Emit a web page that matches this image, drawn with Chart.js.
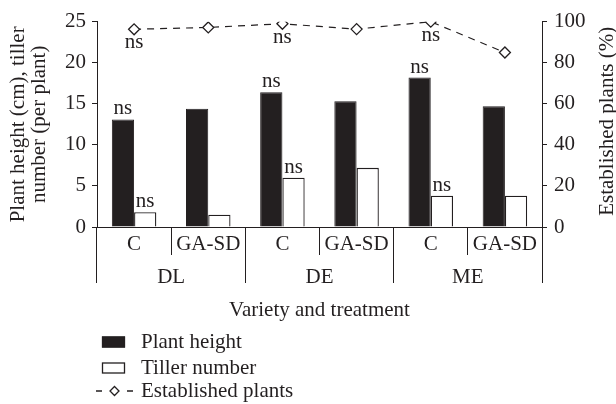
<!DOCTYPE html>
<html>
<head>
<meta charset="utf-8">
<script src="https://cdn.jsdelivr.net/npm/chart.js@4.4.1/dist/chart.umd.min.js"></script>
<style>
  html, body { margin: 0; padding: 0; background: #ffffff; }
  canvas { display: block; }
</style>
</head>
<body>
<canvas id="chart" width="616" height="404"></canvas>
<script>
// Treatments per variety, in drawing order
const treatments = ['C', 'GA-SD', 'C', 'GA-SD', 'C', 'GA-SD'];
const varieties = ['DL', 'DE', 'ME'];

// Series values
const plantHeight = [13.1, 14.4, 16.4, 15.3, 18.2, 14.7];      // cm
const tillerNumber = [1.8, 1.5, 6.0, 7.2, 3.8, 3.8];           // per plant
const establishedPlants = [96.3, 97.2, 99.0, 96.4, 100, 85];   // %

// Significance marks written next to each mark
const heightSig = ['ns', '', 'ns', '', 'ns', ''];
const tillerSig = ['ns', '', 'ns', '', 'ns', ''];
const establishedSig = ['ns', '', 'ns', '', 'ns', ''];

// Axis ticks and titles
const leftTicks = [0, 5, 10, 15, 20, 25];
const rightTicks = [0, 20, 40, 60, 80, 100];
const leftTitle = ['Plant height (cm), tiller', 'number (per plant)'];
const rightTitle = 'Established plants (%)';
const bottomTitle = 'Variety and treatment';

const FONT = "'Liberation Serif', 'Times New Roman', serif";
const INK = '#231f20';
const txt = { family: FONT, size: 21 };

// "ns" labels above bars and below the line markers
const sigLabels = {
  id: 'sigLabels',
  afterDatasetsDraw(chart) {
    const ctx = chart.ctx;
    ctx.save();
    ctx.font = `21px ${FONT}`;
    ctx.fillStyle = INK;
    ctx.textAlign = 'center';
    ctx.textBaseline = 'alphabetic';
    chart.data.datasets.forEach((ds, di) => {
      const meta = chart.getDatasetMeta(di);
      meta.data.forEach((el, i) => {
        const t = ds.sig && ds.sig[i];
        if (!t) return;
        if (ds.type === 'line') ctx.fillText(t, el.x, el.y + 19);
        else ctx.fillText(t, el.x, el.y - 5);
      });
    });
    ctx.restore();
  }
};

// Right axis title, reading bottom to top like the left one
const rightAxisTitle = {
  id: 'rightAxisTitle',
  afterDraw(chart) {
    const s = chart.scales.y1;
    const ctx = chart.ctx;
    ctx.save();
    ctx.translate(s.right - 8.5, (s.top + s.bottom) / 2 - 3);
    ctx.rotate(-Math.PI / 2);
    ctx.font = `21px ${FONT}`;
    ctx.fillStyle = INK;
    ctx.textAlign = 'center';
    ctx.textBaseline = 'middle';
    ctx.fillText(rightTitle, 0, 0);
    ctx.restore();
  }
};

// Vertical legend below the axis title
const stackedLegend = {
  id: 'stackedLegend',
  afterDraw(chart) {
    const ctx = chart.ctx;
    const rows = [342, 368, 391];
    ctx.save();
    ctx.font = `21px ${FONT}`;
    ctx.textAlign = 'left';
    ctx.textBaseline = 'middle';
    chart.data.datasets.forEach((ds, i) => {
      const y = rows[i];
      ctx.lineWidth = 1.3;
      ctx.strokeStyle = INK;
      if (ds.type === 'line') {
        ctx.beginPath();
        ctx.moveTo(96, y); ctx.lineTo(102, y);
        ctx.moveTo(127, y); ctx.lineTo(133, y);
        ctx.stroke();
        const cx = 114.5, r = 4.5;
        ctx.beginPath();
        ctx.moveTo(cx, y - r); ctx.lineTo(cx + r, y);
        ctx.lineTo(cx, y + r); ctx.lineTo(cx - r, y);
        ctx.closePath();
        ctx.fillStyle = '#ffffff';
        ctx.fill();
        ctx.stroke();
      } else {
        ctx.fillStyle = ds.backgroundColor;
        ctx.fillRect(102, y - 5.5, 23, 11);
        ctx.strokeRect(102.5, y - 5, 22, 10);
      }
      ctx.fillStyle = INK;
      ctx.fillText(ds.label, 141, y);
    });
    ctx.restore();
  }
};

new Chart(document.getElementById('chart'), {
  data: {
    labels: treatments,
    datasets: [
      {
        type: 'bar', label: 'Plant height', data: plantHeight, yAxisID: 'y',
        backgroundColor: INK, borderColor: INK, borderWidth: 1, order: 1, sig: heightSig
      },
      {
        type: 'bar', label: 'Tiller number', data: tillerNumber, yAxisID: 'y',
        backgroundColor: '#ffffff', borderColor: INK, borderWidth: 1.3, order: 1, sig: tillerSig
      },
      {
        type: 'line', label: 'Established plants', data: establishedPlants, yAxisID: 'y1',
        borderColor: INK, borderWidth: 1.2, borderDash: [7, 6], fill: false,
        pointStyle: 'rectRot', pointRadius: 5.5, pointBackgroundColor: '#ffffff',
        pointBorderColor: INK, pointBorderWidth: 1.3, order: 0, sig: establishedSig
      }
    ]
  },
  options: {
    responsive: false,
    animation: false,
    devicePixelRatio: 1,
    layout: { padding: { top: 21.7, right: 0, bottom: 83.5, left: 0 } },
    datasets: { bar: { categoryPercentage: 0.6, barPercentage: 1.0 } },
    plugins: { legend: { display: false }, tooltip: { enabled: false } },
    scales: {
      x: {
        type: 'category', position: 'bottom', weight: 0, offset: true,
        grid: { offset: true, drawOnChartArea: false, tickLength: 28, color: INK, lineWidth: 1 },
        border: { display: true, color: INK, width: 1 },
        ticks: { padding: -23, color: INK, font: txt, maxRotation: 0, autoSkip: false },
        afterFit(s) { s.height = 28; }
      },
      x2: {
        type: 'category', position: 'bottom', weight: 1, labels: varieties, offset: true,
        grid: { offset: true, drawOnChartArea: false, tickLength: 28, color: INK, lineWidth: 1 },
        border: { display: false },
        ticks: { padding: -18, color: INK, font: txt, maxRotation: 0, autoSkip: false },
        title: {
          display: true, text: bottomTitle, color: INK,
          font: { family: FONT, size: 21, lineHeight: 1 }, padding: 0
        },
        afterFit(s) { s.height = 65.5; }
      },
      y: {
        position: 'left', min: 0, max: 25,
        afterBuildTicks(s) { s.ticks = leftTicks.map(v => ({ value: v })); },
        grid: { drawOnChartArea: false, tickLength: 5, color: INK, lineWidth: 1 },
        border: { display: true, color: INK, width: 1 },
        ticks: { padding: 6, color: INK, font: txt },
        title: {
          display: true, text: leftTitle, color: INK,
          font: { family: FONT, size: 21, lineHeight: 1 }, padding: { top: 8, bottom: 0 }
        },
        afterFit(s) { s.width = 97; }
      },
      y1: {
        position: 'right', min: 0, max: 100,
        afterBuildTicks(s) { s.ticks = rightTicks.map(v => ({ value: v })); },
        grid: { drawOnChartArea: false, tickLength: 5, color: INK, lineWidth: 1 },
        border: { display: true, color: INK, width: 1 },
        ticks: { padding: 7, color: INK, font: txt },
        title: { display: false },
        afterFit(s) { s.width = 74; }
      }
    }
  },
  plugins: [sigLabels, rightAxisTitle, stackedLegend]
});
</script>
</body>
</html>
